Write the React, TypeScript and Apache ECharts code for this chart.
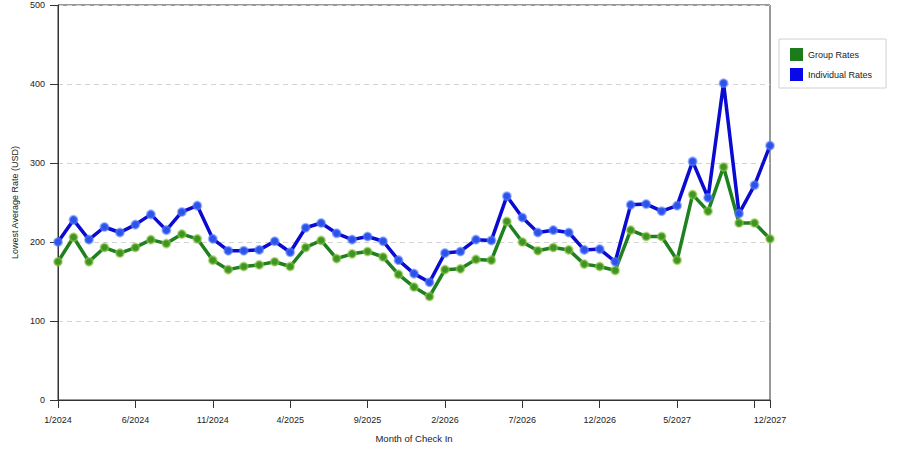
import React, { useEffect, useRef } from "react";
import * as echarts from "echarts";

const months: string[] = [
  "1/2024", "2/2024", "3/2024", "4/2024", "5/2024", "6/2024", "7/2024", "8/2024", "9/2024", "10/2024", "11/2024", "12/2024",
  "1/2025", "2/2025", "3/2025", "4/2025", "5/2025", "6/2025", "7/2025", "8/2025", "9/2025", "10/2025", "11/2025", "12/2025",
  "1/2026", "2/2026", "3/2026", "4/2026", "5/2026", "6/2026", "7/2026", "8/2026", "9/2026", "10/2026", "11/2026", "12/2026",
  "1/2027", "2/2027", "3/2027", "4/2027", "5/2027", "6/2027", "7/2027", "8/2027", "9/2027", "10/2027", "12/2027",
];

const groupRates: number[] = [
  175, 206, 175, 193, 186, 193, 203, 198, 210, 204, 177, 165,
  169, 171, 175, 169, 193, 202, 179, 185, 188, 181, 159, 143,
  131, 165, 166, 178, 177, 226, 200, 189, 193, 190, 172, 169,
  164, 215, 207, 207, 177, 260, 239, 295, 224, 224, 204,
];

const individualRates: number[] = [
  200, 228, 203, 219, 212, 222, 235, 215, 238, 246, 204, 189,
  189, 190, 201, 187, 218, 224, 211, 203, 207, 201, 177, 160,
  149, 186, 188, 203, 202, 258, 231, 212, 215, 212, 190, 191,
  175, 247, 248, 239, 246, 302, 256, 401, 236, 272, 322,
];

const FONT = "Liberation Sans, Arial, sans-serif";
const TEXT = "#222";
const AXIS = "#333";

export default function App() {
  const ref = useRef<HTMLDivElement>(null);

  useEffect(() => {
    if (!ref.current) return;
    const chart = echarts.init(ref.current, null, { renderer: "svg" });
    const last = months.length - 1;
    chart.setOption({
      animation: false,
      backgroundColor: "#fff",
      textStyle: { fontFamily: FONT },
      grid: {
        left: 58,
        right: 130,
        top: 5,
        bottom: 50,
        show: true,
        borderColor: AXIS,
        borderWidth: 1,
        backgroundColor: "transparent",
      },
      legend: {
        orient: "vertical",
        left: 779,
        top: 39,
        padding: [9, 14, 7, 11],
        itemWidth: 13,
        itemHeight: 13,
        itemGap: 7,
        icon: "rect",
        borderColor: "#d0d0d0",
        borderWidth: 1,
        textStyle: { fontFamily: FONT, fontSize: 9, color: TEXT },
        data: [
          { name: "Group Rates", itemStyle: { color: "#1c7c1c", borderWidth: 0 } },
          { name: "Individual Rates", itemStyle: { color: "#0808e8", borderWidth: 0 } },
        ],
      },
      xAxis: {
        type: "category",
        data: months,
        boundaryGap: false,
        name: "Month of Check In",
        nameLocation: "middle",
        nameGap: 33,
        nameTextStyle: { fontFamily: FONT, fontSize: 9.5, color: TEXT },
        axisLine: { show: true, lineStyle: { color: AXIS, width: 1 } },
        axisTick: {
          show: true,
          length: 8,
          interval: (i: number) => i % 5 === 0 || i === last - 1 || i === last,
          lineStyle: { color: AXIS },
        },
        axisLabel: {
          interval: (i: number) => (i % 5 === 0 && i !== last - 1) || i === last,
          margin: 15,
          fontFamily: FONT,
          fontSize: 9,
          color: TEXT,
        },
        splitLine: { show: false },
      },
      yAxis: {
        type: "value",
        min: 0,
        max: 500,
        interval: 100,
        name: "Lowest Average Rate (USD)",
        nameLocation: "middle",
        nameGap: 35,
        nameTextStyle: { fontFamily: FONT, fontSize: 9, color: TEXT },
        axisLine: { show: true, lineStyle: { color: AXIS, width: 1 } },
        axisTick: { show: true, length: 8, lineStyle: { color: AXIS } },
        axisLabel: { margin: 13, fontFamily: FONT, fontSize: 9, color: TEXT },
        splitLine: { show: true, lineStyle: { type: [5, 4], color: "#d4d4d4", width: 1 } },
      },
      series: [
        {
          name: "Group Rates",
          type: "line",
          data: groupRates,
          symbol: "circle",
          symbolSize: 8,
          showAllSymbol: true,
          lineStyle: { color: "#1e801e", width: 3.5 },
          itemStyle: { color: "#3f9426", borderColor: "rgba(150,200,70,0.55)", borderWidth: 2 },
          z: 2,
        },
        {
          name: "Individual Rates",
          type: "line",
          data: individualRates,
          symbol: "circle",
          symbolSize: 8,
          showAllSymbol: true,
          lineStyle: { color: "#0a0ad0", width: 3.5 },
          itemStyle: { color: "#2c52ea", borderColor: "rgba(90,130,255,0.55)", borderWidth: 2 },
          z: 3,
        },
      ],
    });
    return () => chart.dispose();
  }, []);

  return (
    <div
      ref={ref}
      style={{ position: "fixed", left: 0, top: 0, width: 900, height: 450, background: "#fff" }}
    />
  );
}
